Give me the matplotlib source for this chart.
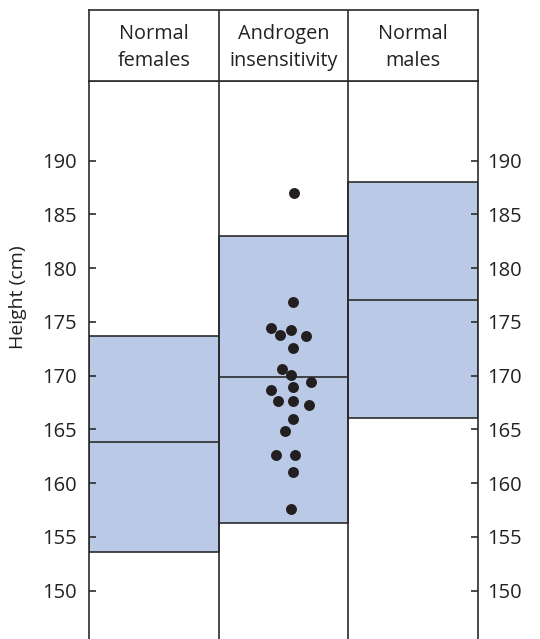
import matplotlib.pyplot as plt

plt.rcParams['font.family'] = ['Open Sans', 'DejaVu Sans']

groups = ['Normal\nfemales', 'Androgen\ninsensitivity', 'Normal\nmales']
box_low = [153.6, 156.3, 166.1]
box_high = [173.7, 183.0, 188.0]
medians = [163.8, 169.9, 177.0]

# individual heights for the androgen insensitivity group (x = jitter within column)
ais_x = [1.58, 1.57, 1.40, 1.47, 1.56, 1.67, 1.57, 1.49, 1.56, 1.71, 1.40,
         1.57, 1.46, 1.57, 1.70, 1.57, 1.51, 1.44, 1.59, 1.57, 1.56]
ais_height = [187.0, 176.8, 174.4, 173.8, 174.2, 173.7, 172.6, 170.6, 170.1, 169.4, 168.7,
              168.9, 167.6, 167.6, 167.3, 166.0, 164.8, 162.6, 162.6, 161.0, 157.6]

yticks = [150, 155, 160, 165, 170, 175, 180, 185, 190]

line_col = '#2b2b2b'
fill_col = '#b9c9e6'
lw = 1.2

fig = plt.figure(figsize=(5.4, 6.39), dpi=100)
W, H = 540, 639
left, right, top, head = 89, 478, 10, 81

ax = fig.add_axes([left / W, 0, (right - left) / W, (H - head) / H])
hx = fig.add_axes([left / W, 1 - head / H, (right - left) / W, (head - top) / H])

# boxes
x0 = [0, 1, 2]
heights = [h - l for h, l in zip(box_high, box_low)]
ax.bar(x0, heights, bottom=box_low, width=1, align='edge', color=fill_col,
       edgecolor=line_col, linewidth=lw, zorder=1)
ax.hlines(medians, x0, [x + 1 for x in x0], colors=line_col, linewidth=lw, zorder=2)
ax.scatter(ais_x, ais_height, s=62, color='#231f20', zorder=3, linewidths=0)

for x in [1, 2]:
    ax.axvline(x, color=line_col, linewidth=lw, zorder=4)
    hx.axvline(x, color=line_col, linewidth=lw)

ax.set_xlim(0, 3)
ax.set_ylim(145.5, 197.4)
ax.set_xticks([])
ax.set_yticks(yticks)
ax.tick_params(axis='y', direction='in', length=5, width=lw, color=line_col,
               labelsize=14.5, pad=9, labelcolor='#222222')
ax.spines['bottom'].set_visible(False)
for s in ['left', 'right', 'top']:
    ax.spines[s].set_linewidth(lw)
    ax.spines[s].set_color(line_col)
ax.spines['right'].set_zorder(5)

ax2 = ax.twinx()
ax2.set_ylim(ax.get_ylim())
ax2.set_yticks(yticks)
ax2.tick_params(axis='y', direction='in', length=5, width=lw, color=line_col,
                labelsize=14.5, pad=6.5, labelcolor='#222222')
for s in ax2.spines.values():
    s.set_visible(False)

# header row
hx.set_xlim(0, 3)
hx.set_ylim(0, 1)
hx.set_xticks([])
hx.set_yticks([])
for s in hx.spines.values():
    s.set_linewidth(lw)
    s.set_color(line_col)
for i, g in enumerate(groups):
    hx.text(i + 0.5, 0.47, g, ha='center', va='center', fontsize=14.3,
            color='#222222', linespacing=1.42)

fig.text(18 / W, 1 - 297 / H, 'Height (cm)', rotation=90, ha='center', va='center',
         fontsize=14, color='#222222')

fig.savefig('out.png', dpi=100)
